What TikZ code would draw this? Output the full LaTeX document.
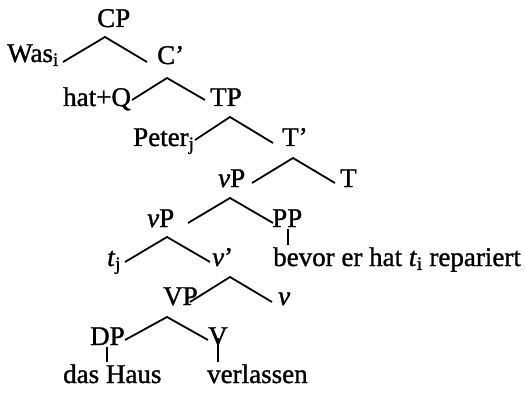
\documentclass[tikz,border=0pt]{standalone}
\usepackage{fontspec}
\setmainfont{Liberation Serif}
\tikzset{
  lbl/.style={inner sep=0pt, anchor=base west, font=\fontsize{27}{30}\selectfont\addfontfeatures{FakeBold=1.2}},
  br/.style={line width=1.8pt}
}
\begin{document}
\begin{tikzpicture}[x=1pt,y=-1pt]
\useasboundingbox (0,0) rectangle (525,393);
% labels
\node[lbl] (cp) at (97,27) {CP};
\node[lbl] (was) at (7,62) {Was\textsubscript{i}};
\node[lbl] (cbar) at (157,64) {C'};
\node[lbl] (hatq) at (63,106) {hat+Q};
\node[lbl] (tp) at (210,106) {TP};
\node[lbl] (peter) at (133,146) {Peter\textsubscript{j}};
\node[lbl] (tbar) at (282,146) {T'};
\node[lbl] (vpa) at (218,187) {\textit{v}P};
\node[lbl] (t) at (340,187) {T};
\node[lbl] (vpb) at (147,227) {\textit{v}P};
\node[lbl] (pp) at (272,227) {PP};
\node[lbl] (tj) at (107,266) {\textit{t}\textsubscript{j}};
\node[lbl] (vbar) at (212,266) {\textit{v}'};
\node[lbl] (bevor) at (273,266) {bevor er hat \textit{t}\textsubscript{i} repariert};
\node[lbl] (vpc) at (163,305) {VP};
\node[lbl] (v) at (278,305) {\textit{v}};
\node[lbl] (dp) at (90,345) {DP};
\node[lbl] (V) at (208,345) {V};
\node[lbl] (haus) at (63,383) {das Haus};
\node[lbl] (verl) at (207,383) {verlassen};
% branch points
\coordinate (a1) at (105,37); \coordinate (l1) at (63,62);  \coordinate (r1) at (147,62);
\coordinate (a2) at (167,78); \coordinate (l2) at (132,100); \coordinate (r2) at (205,100);
\coordinate (a3) at (230,117); \coordinate (l3) at (195,140); \coordinate (r3) at (273,143);
\coordinate (a4) at (293,158); \coordinate (l4) at (252,183); \coordinate (r4) at (335,183);
\coordinate (a5) at (230,198); \coordinate (l5) at (188,223); \coordinate (r5) at (273,223);
\coordinate (a6) at (167,237); \coordinate (l6) at (125,262); \coordinate (r6) at (210,262);
\coordinate (a7) at (230,277); \coordinate (l7) at (190,302); \coordinate (r7) at (272,302);
\coordinate (a8) at (167,317); \coordinate (l8) at (125,340); \coordinate (r8) at (208,340);
\draw[br] (l1) -- (a1) -- (r1);
\draw[br] (l2) -- (a2) -- (r2);
\draw[br] (l3) -- (a3) -- (r3);
\draw[br] (l4) -- (a4) -- (r4);
\draw[br] (l5) -- (a5) -- (r5);
\draw[br] (l6) -- (a6) -- (r6);
\draw[br] (l7) -- (a7) -- (r7);
\draw[br] (l8) -- (a8) -- (r8);
% unary lines
\coordinate (pps) at (288,229); \coordinate (ppe) at (288,245);
\coordinate (dps) at (107,347); \coordinate (dpe) at (107,362);
\coordinate (vs) at (218,338);  \coordinate (ve) at (218,362);
\draw[br] (pps) -- (ppe);
\draw[br] (dps) -- (dpe);
\draw[br] (vs) -- (ve);
\end{tikzpicture}
\end{document}
